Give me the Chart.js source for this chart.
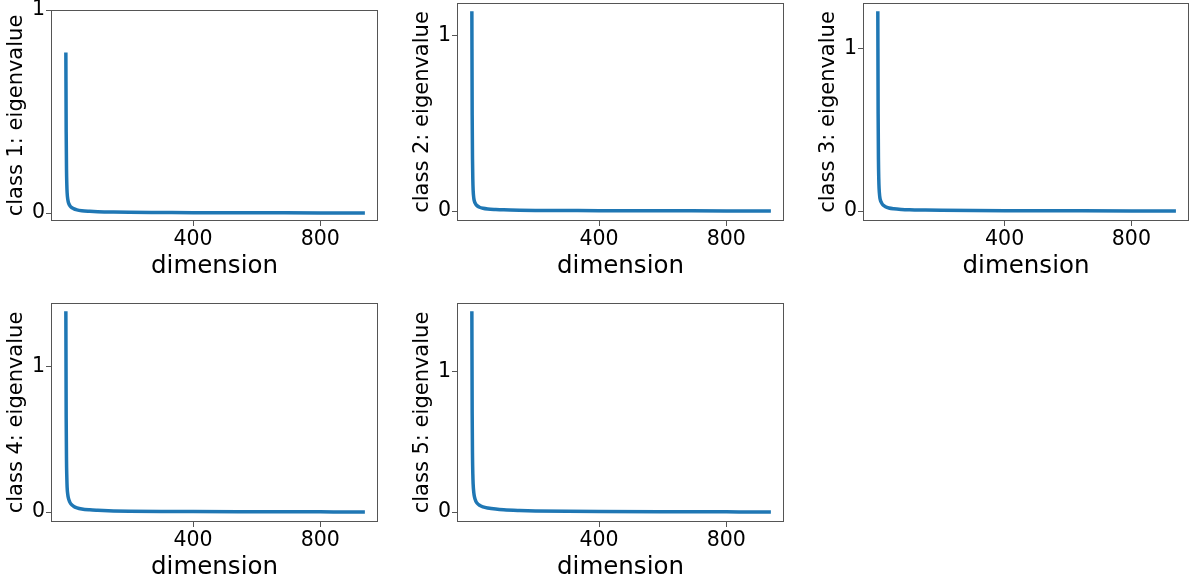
<!DOCTYPE html>
<html lang="en">
<head>
    <meta charset="UTF-8">
    <title>Eigenvalue spectra</title>
    <script src="https://cdn.jsdelivr.net/npm/chart.js"></script>
    <style>
        body {
            margin: 0;
            padding: 0;
            background: #fff;
            overflow: hidden;
            width: 1191px;
            height: 582px;
            position: relative;
            font-family: "DejaVu Sans", sans-serif;
        }
        .panel {
            position: absolute;
        }
    </style>
</head>
<body>
    <div class="panel" id="p1"><canvas id="c1"></canvas></div>
    <div class="panel" id="p2"><canvas id="c2"></canvas></div>
    <div class="panel" id="p3"><canvas id="c3"></canvas></div>
    <div class="panel" id="p4"><canvas id="c4"></canvas></div>
    <div class="panel" id="p5"><canvas id="c5"></canvas></div>

    <script>
        // dimension index of the sampled points
        const dims = [0, 1, 2, 3, 4, 6, 8, 12, 16, 24, 35, 50, 75, 100, 150, 200, 300, 400, 600, 800, 935];

        // eigenvalues, one list per class
        const class1 = [0.782, 0.40, 0.22, 0.14, 0.10, 0.068, 0.052, 0.038, 0.030, 0.022, 0.016, 0.012, 0.009, 0.007, 0.005, 0.004, 0.003, 0.002, 0.0015, 0.001, 0.0005];
        const class2 = [1.131, 0.55, 0.30, 0.18, 0.12, 0.075, 0.056, 0.040, 0.031, 0.022, 0.016, 0.012, 0.009, 0.007, 0.005, 0.004, 0.003, 0.002, 0.0015, 0.001, 0.0005];
        const class3 = [1.22, 0.60, 0.32, 0.20, 0.14, 0.09, 0.068, 0.050, 0.038, 0.027, 0.019, 0.014, 0.010, 0.008, 0.006, 0.0045, 0.003, 0.0022, 0.0015, 0.001, 0.0005];
        const class4 = [1.368, 0.65, 0.36, 0.24, 0.17, 0.12, 0.095, 0.070, 0.055, 0.040, 0.029, 0.021, 0.015, 0.012, 0.008, 0.006, 0.004, 0.003, 0.002, 0.0012, 0.0005];
        const class5 = [1.415, 0.70, 0.40, 0.27, 0.20, 0.14, 0.11, 0.080, 0.064, 0.048, 0.037, 0.029, 0.021, 0.016, 0.011, 0.008, 0.005, 0.0035, 0.002, 0.0012, 0.0005];

        const xTicks = [400, 800];
        const yTicks = [0, 1];
        const xLabel = 'dimension';
        const yLabels = ['class 1: eigenvalue', 'class 2: eigenvalue', 'class 3: eigenvalue', 'class 4: eigenvalue', 'class 5: eigenvalue'];

        // axes boxes (left, top, width, height) and y limits
        const panels = [
            { id: 'p1', canvas: 'c1', data: class1, box: [51, 10, 327, 211], ymin: -0.039, ymax: 1.0 },
            { id: 'p2', canvas: 'c2', data: class2, box: [457, 3, 327, 218], ymin: -0.0566, ymax: 1.188 },
            { id: 'p3', canvas: 'c3', data: class3, box: [863, 3, 326, 218], ymin: -0.061, ymax: 1.281 },
            { id: 'p4', canvas: 'c4', data: class4, box: [51, 303, 327, 219], ymin: -0.0684, ymax: 1.436 },
            { id: 'p5', canvas: 'c5', data: class5, box: [457, 303, 327, 219], ymin: -0.0708, ymax: 1.486 }
        ];

        const AXIS_W = 51;
        const AXIS_H = 60;
        const PAD_TOP = 16;
        const PAD_RIGHT = 3;

        const frame = {
            id: 'frame',
            afterDraw(chart) {
                const a = chart.chartArea;
                const ctx = chart.ctx;
                ctx.save();
                ctx.strokeStyle = '#555';
                ctx.lineWidth = 1;
                ctx.strokeRect(Math.round(a.left) + 0.5, Math.round(a.top) + 0.5,
                    Math.round(a.right - a.left) - 1, Math.round(a.bottom - a.top) - 1);
                ctx.restore();
            }
        };

        panels.forEach((p, i) => {
            const [L, T, W, H] = p.box;
            const div = document.getElementById(p.id);
            div.style.left = (L - AXIS_W) + 'px';
            div.style.top = (T - PAD_TOP) + 'px';
            div.style.width = (W + AXIS_W + PAD_RIGHT) + 'px';
            div.style.height = (H + PAD_TOP + AXIS_H) + 'px';

            new Chart(document.getElementById(p.canvas), {
                type: 'line',
                data: {
                    datasets: [{
                        data: dims.map((d, k) => ({ x: d, y: p.data[k] })),
                        borderColor: '#1f77b4',
                        borderWidth: 3.5,
                        borderCapStyle: 'square',
                        pointRadius: 0,
                        cubicInterpolationMode: 'monotone',
                        fill: false
                    }]
                },
                options: {
                    responsive: true,
                    maintainAspectRatio: false,
                    animation: false,
                    layout: { padding: { top: PAD_TOP, right: PAD_RIGHT, left: 0, bottom: 0 } },
                    plugins: { legend: { display: false }, tooltip: { enabled: false } },
                    scales: {
                        x: {
                            type: 'linear',
                            min: -46.75,
                            max: 981.75,
                            afterBuildTicks: s => { s.ticks = xTicks.map(v => ({ value: v })); },
                            afterFit: s => { s.height = AXIS_H; },
                            grid: { drawOnChartArea: false, drawTicks: true, tickLength: 5, color: '#555' },
                            border: { display: false },
                            ticks: { color: '#000', padding: 1, maxRotation: 0, font: { family: 'DejaVu Sans', size: 20.5 } },
                            title: { display: true, text: xLabel, color: '#000', padding: { top: 0, bottom: 0 }, font: { family: 'DejaVu Sans', size: 24.5 } }
                        },
                        y: {
                            type: 'linear',
                            min: p.ymin,
                            max: p.ymax,
                            afterBuildTicks: s => { s.ticks = yTicks.map(v => ({ value: v })); },
                            afterFit: s => { s.width = AXIS_W; },
                            grid: { drawOnChartArea: false, drawTicks: true, tickLength: 5, color: '#555' },
                            border: { display: false },
                            ticks: { color: '#000', padding: 1, font: { family: 'DejaVu Sans', size: 20.5 } },
                            title: { display: true, text: yLabels[i], color: '#000', padding: { top: 4, bottom: 0 }, font: { family: 'DejaVu Sans', size: 21 } }
                        }
                    }
                },
                plugins: [frame]
            });
        });
    </script>
</body>
</html>
